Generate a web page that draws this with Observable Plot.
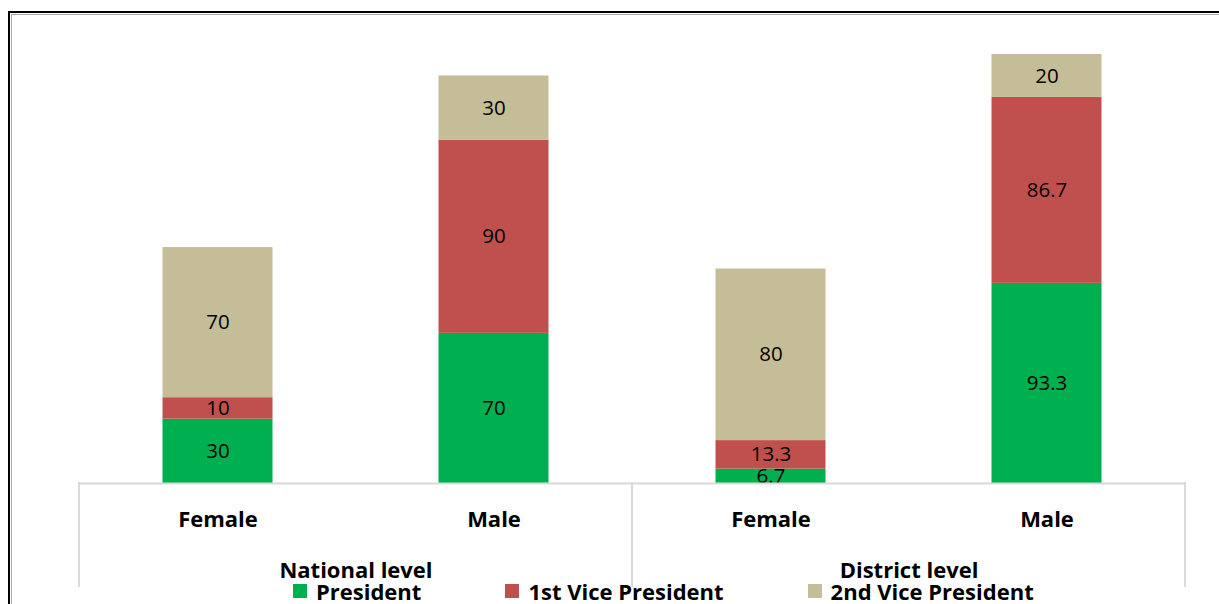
<!DOCTYPE html>
<html>
<head>
<meta charset="utf-8">
<script src="https://cdn.jsdelivr.net/npm/d3@7"></script>
<script src="https://cdn.jsdelivr.net/npm/@observablehq/plot@0.6"></script>
<style>
html, body { margin: 0; padding: 0; background: #fff; overflow: hidden; width: 1219px; height: 604px; }
#wrap { position: relative; width: 1219px; height: 604px; font-family: "Open Sans", sans-serif; }
#frame { position: absolute; left: 8px; top: 11px; width: 1400px; height: 800px; border-left: 2.5px solid #000; border-top: 2.5px solid #000; }
#frame2 { position: absolute; left: 10.5px; top: 13.5px; width: 1400px; height: 800px; border-left: 1px solid #aaa; border-top: 1px solid #aaa; }
#chart { position: absolute; left: 0; top: 0; }
#legend { position: absolute; left: 293px; top: 576px; }
g[aria-label="x-axis tick label"] text, g[aria-label="fx-axis tick label"] text { font-weight: bold; }
.lg-swatches-wrap { min-height: 0 !important; height: 26px; margin: 0 !important; }
.lg-swatch { margin-right: 84px !important; }
.lg-swatch > svg { margin-right: 9px !important; }
</style>
</head>
<body>
<div id="wrap">
  <div id="frame"></div>
  <div id="frame2"></div>
  <div id="chart"></div>
  <div id="legend"></div>
</div>
<script>
// ---- data ----
const levels = ["National level", "District level"];
const sexes = ["Female", "Male"];
const roles = ["President", "1st Vice President", "2nd Vice President"];
// values ordered: National Female, National Male, District Female, District Male
const president = [30, 70, 6.7, 93.3];
const firstVice = [10, 90, 13.3, 86.7];
const secondVice = [70, 30, 80, 20];
const roleColors = ["#00B050", "#C0504D", "#C4BD97"];

const series = [president, firstVice, secondVice];
const rows = [];
roles.forEach((role, r) => {
  levels.forEach((level, li) => {
    sexes.forEach((sex, si) => {
      rows.push({level, sex, role, value: series[r][li * 2 + si]});
    });
  });
});

const chart = Plot.plot({
  width: 1219,
  height: 604,
  marginLeft: 78.5,
  marginRight: 33,
  marginTop: 54,
  marginBottom: 121,
  style: {fontFamily: "'Open Sans', sans-serif", background: "transparent", overflow: "visible", color: "#000"},
  fx: {domain: levels, padding: 0, label: null},
  x: {domain: sexes, paddingInner: 0.603, paddingOuter: 0.3015, label: null},
  y: {domain: [0, 200], axis: null},
  color: {domain: roles, range: roleColors},
  marks: [
    Plot.barY(rows, {fx: "level", x: "sex", y: "value", fill: "role", z: "role"}),
    Plot.text(rows, Plot.stackY({fx: "level", x: "sex", y: "value", z: "role", text: d => String(d.value), fontSize: 20.5, fill: "#000"})),
    Plot.ruleY([0], {stroke: "#d9d9d9", strokeWidth: 2}),
    Plot.axisX({tickSize: 0, tickPadding: 28, fontSize: 22, fontWeight: "bold", label: null}),
    Plot.axisFx({anchor: "bottom", tickSize: 0, tickPadding: 79, fontSize: 22, fontWeight: "bold", label: null})
  ]
});
document.getElementById("chart").appendChild(chart);

// category divider lines at facet edges, derived from the scales
const fxS = chart.scale("fx");
const yS = chart.scale("y");
const y0 = yS.apply(0);
const bw = fxS.bandwidth;
const edges = levels.map(l => fxS.apply(l)).concat([fxS.apply(levels[levels.length - 1]) + bw]);
d3.select(chart).append("g").attr("aria-label", "dividers")
  .selectAll("line").data(edges).join("line")
  .attr("x1", d => d).attr("x2", d => d)
  .attr("y1", y0 - 1).attr("y2", y0 + 104)
  .attr("stroke", "#d9d9d9").attr("stroke-width", 2);

const legend = Plot.legend({
  color: {domain: roles, range: roleColors},
  legend: "swatches",
  swatchSize: 14,
  className: "lg",
  style: {fontFamily: "'Open Sans', sans-serif", fontSize: "22px", fontWeight: "bold", color: "#000"}
});
document.getElementById("legend").appendChild(legend);
</script>
</body>
</html>
